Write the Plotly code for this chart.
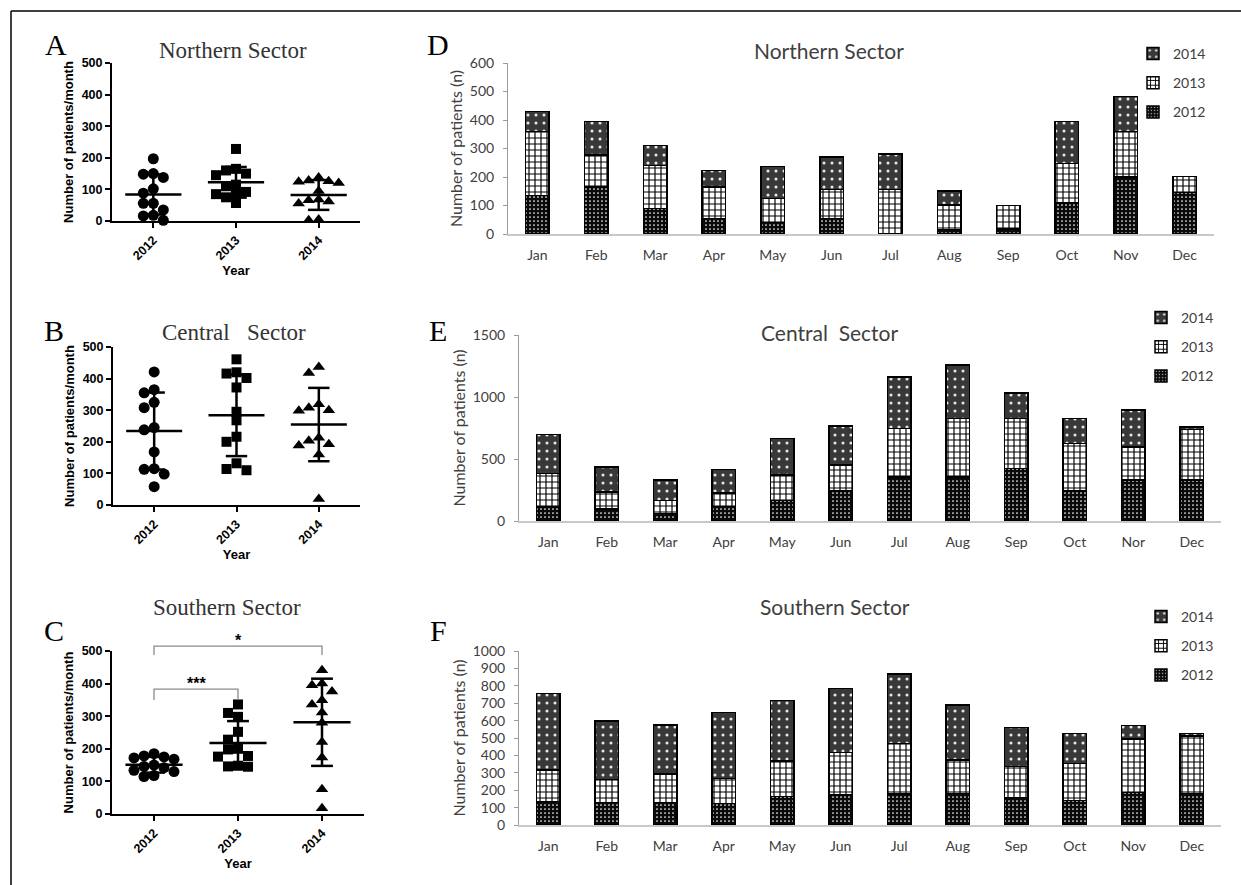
import plotly.graph_objects as go
import numpy as np

# ---------------- data ----------------
years = ["2012", "2013", "2014"]
months_d = ["Jan", "Feb", "Mar", "Apr", "May", "Jun", "Jul", "Aug", "Sep", "Oct", "Nov", "Dec"]
months_e = ["Jan", "Feb", "Mar", "Apr", "May", "Jun", "Jul", "Aug", "Sep", "Oct", "Nor", "Dec"]
months_f = ["Jan", "Feb", "Mar", "Apr", "May", "Jun", "Jul", "Aug", "Sep", "Oct", "Nov", "Dec"]

# Panel A - Northern sector, patients/month
north_2012 = [197, 150, 148, 138, 102, 88, 56, 56, 35, 18, 16, 2]
north_2013 = [228, 165, 160, 150, 145, 115, 110, 92, 88, 85, 75, 57]
north_2014 = [138, 128, 126, 124, 120, 95, 68, 66, 62, 55, 5, 2]
# Panel B - Central sector
central_2012 = [421, 365, 355, 325, 308, 245, 238, 168, 115, 113, 98, 58]
central_2013 = [461, 420, 416, 402, 372, 295, 268, 216, 200, 132, 114, 110]
central_2014 = [437, 418, 319, 308, 300, 298, 213, 203, 192, 188, 160, 19]
# Panel C - Southern sector
south_2012 = [185, 178, 175, 172, 168, 150, 146, 142, 134, 130, 118, 115]
south_2013 = [336, 310, 298, 252, 228, 200, 198, 178, 176, 148, 146, 145]
south_2014 = [441, 400, 395, 376, 349, 336, 311, 280, 221, 173, 76, 18]

# Panel D - Northern sector monthly stacked
d_2012 = [135, 165, 90, 55, 40, 55, 0, 16, 18, 108, 200, 145]
d_2013 = [225, 113, 150, 110, 85, 102, 157, 86, 82, 140, 160, 57]
d_2014 = [70, 117, 70, 57, 112, 113, 124, 49, 0, 147, 123, 0]
# Panel E - Central sector
e_2012 = [113, 95, 60, 118, 167, 242, 355, 355, 423, 242, 329, 329]
e_2013 = [270, 140, 107, 108, 202, 208, 390, 472, 404, 383, 269, 409]
e_2014 = [315, 200, 162, 189, 296, 315, 418, 430, 207, 202, 296, 22]
# Panel F - Southern sector
f_2012 = [134, 128, 128, 125, 163, 172, 178, 182, 159, 140, 188, 182]
f_2013 = [182, 134, 165, 143, 205, 246, 291, 192, 176, 214, 306, 329]
f_2014 = [441, 336, 282, 380, 347, 366, 399, 316, 224, 173, 77, 16]

# ---------------- layout helpers ----------------
W, H = 1241, 885
def fx(px):
    return px / W
def fy(py):
    return 1 - py / H

SERIF = "Liberation Serif"
ARIAL = "Liberation Sans"
SANS = "Lato"
GREY_TXT = "#404040"

fig = go.Figure()

def swarm(values, px_unit, px_cat, diam=10.0):
    n = len(values)
    order = sorted(range(n), key=lambda i: -values[i])
    placed = []
    offs = [0.0] * n
    for i in order:
        y = values[i] * px_unit
        x = 0.0
        for k in [0, -1, 1, -2, 2, -3, 3, -4, 4]:
            cand = k * diam
            if all((cand - px) ** 2 + (y - py) ** 2 >= (diam * 0.85) ** 2 for px, py in placed):
                x = cand
                break
        placed.append((x, y))
        offs[i] = x / px_cat
    return offs

scatter_panels = [
    dict(ax="", dom_x=(112, 360), dom_y=(221, 63), data=[north_2012, north_2013, north_2014],
         title="Northern Sector", tpos=(233, 51), letter="A", lpos=(56, 44)),
    dict(ax="2", dom_x=(113, 360), dom_y=(505, 347), data=[central_2012, central_2013, central_2014],
         title="Central\u00a0\u00a0 Sector", tpos=(234, 332), letter="B", lpos=(54, 331)),
    dict(ax="3", dom_x=(112, 364), dom_y=(814, 651), data=[south_2012, south_2013, south_2014],
         title="Southern Sector", tpos=(227, 607), letter="C", lpos=(54, 630)),
]
symbols = ["circle", "square", "triangle-up"]
sizes = [11, 10, 11]

for p in scatter_panels:
    a = p["ax"]
    px_cat = (p["dom_x"][1] - p["dom_x"][0]) / 3
    px_unit = (p["dom_y"][0] - p["dom_y"][1]) / 500
    for i, vals in enumerate(p["data"]):
        offs = swarm(vals, px_unit, px_cat)
        fig.add_trace(go.Scatter(
            x=[i + o for o in offs], y=vals, mode="markers",
            marker=dict(symbol=symbols[i], size=sizes[i], color="black"),
            xaxis="x" + a, yaxis="y" + a, showlegend=False, cliponaxis=False, hoverinfo="y"))
        m = float(np.mean(vals))
        s = float(np.std(vals, ddof=1))
        lx = [i - 0.34, i + 0.34, None, i - 0.13, i + 0.13, None, i - 0.13, i + 0.13, None, i, i]
        ly = [m, m, None, m + s, m + s, None, m - s, m - s, None, m - s, m + s]
        fig.add_trace(go.Scatter(
            x=lx, y=ly, mode="lines", line=dict(color="black", width=2.5),
            xaxis="x" + a, yaxis="y" + a, showlegend=False, cliponaxis=False, hoverinfo="skip"))
    xa = dict(domain=[fx(p["dom_x"][0]), fx(p["dom_x"][1])], range=[-0.5, 2.5],
              anchor="y" + a, tickmode="array", tickvals=[0, 1, 2], ticktext=years,
              tickangle=-45, showline=True, linecolor="black", linewidth=2,
              ticks="outside", ticklen=5, tickwidth=2, tickcolor="black",
              showgrid=False, zeroline=False, automargin=False,
              tickfont=dict(family=ARIAL, size=12.5, color="black", weight="bold"),
              title=dict(text="<b>Year</b>", font=dict(family=ARIAL, size=13, color="black"), standoff=3))
    ya = dict(domain=[fy(p["dom_y"][0]), fy(p["dom_y"][1])], range=[0, 500],
              anchor="x" + a, tickmode="array", tickvals=[0, 100, 200, 300, 400, 500],
              showline=True, linecolor="black", linewidth=2,
              ticks="outside", ticklen=5, tickwidth=2, tickcolor="black",
              showgrid=False, zeroline=False, automargin=False,
              tickfont=dict(family=ARIAL, size=12.5, color="black", weight="bold"),
              title=dict(text="<b>Number of patients/month</b>", font=dict(family=ARIAL, size=13, color="black"), standoff=5))
    fig.update_layout(**{"xaxis" + a: xa, "yaxis" + a: ya})
    fig.add_annotation(x=fx(p["tpos"][0]), y=fy(p["tpos"][1]), xref="paper", yref="paper",
                       text=p["title"], showarrow=False, font=dict(family=SERIF, size=23, color="#333333"),
                       xanchor="center", yanchor="middle")
    fig.add_annotation(x=fx(p["lpos"][0]), y=fy(p["lpos"][1]), xref="paper", yref="paper",
                       text=p["letter"], showarrow=False, font=dict(family=SERIF, size=30, color="black"),
                       xanchor="center", yanchor="middle")

# significance brackets on panel C
def cx(i):
    return (i + 0.5) / 3
br_col = "#8a8a8a"
fig.add_shape(type="path", xref="x3 domain", yref="y3 domain",
              path=f"M {cx(0)} {488/500} L {cx(0)} {515/500} L {cx(2)} {515/500} L {cx(2)} {488/500}",
              line=dict(color=br_col, width=1.3))
fig.add_shape(type="path", xref="x3 domain", yref="y3 domain",
              path=f"M {cx(0)} {350/500} L {cx(0)} {383/500} L {cx(1)} {383/500} L {cx(1)} {350/500}",
              line=dict(color=br_col, width=1.3))
fig.add_annotation(x=(cx(0) + cx(2)) / 2, y=515 / 500, xref="x3 domain", yref="y3 domain",
                   text="<b>*</b>", showarrow=False, yanchor="bottom",
                   font=dict(family=ARIAL, size=16, color="black"), yshift=-5)
fig.add_annotation(x=(cx(0) + cx(1)) / 2, y=383 / 500, xref="x3 domain", yref="y3 domain",
                   text="<b>***</b>", showarrow=False, yanchor="bottom",
                   font=dict(family=ARIAL, size=16, color="black"), yshift=-5)

# ---------------- stacked bar panels ----------------
pat = {
    "2012": dict(shape=".", bgcolor="#0a0a0a", fgcolor="#ffffff", size=4, solidity=0.15, fillmode="replace"),
    "2013": dict(shape="+", bgcolor="#ffffff", fgcolor="#000000", size=6, solidity=0.35, fillmode="replace"),
    "2014": dict(shape=".", bgcolor="#383838", fgcolor="#e6e6e6", size=8, solidity=0.12, fillmode="replace"),
}

bar_panels = [
    dict(ax="4", legend="legend", months=months_d, data=[d_2012, d_2013, d_2014],
         dom_x=(508, 1214), dom_y=(234, 63), rng=[0, 600], tv=list(range(0, 601, 100)),
         title="Northern Sector", tpos=(829, 50), letter="D", lpos=(438, 45), leg=(1133, 38)),
    dict(ax="5", legend="legend2", months=months_e, data=[e_2012, e_2013, e_2014],
         dom_x=(519, 1221), dom_y=(521, 335), rng=[0, 1500], tv=[0, 500, 1000, 1500],
         title="Central\u00a0\u00a0Sector", tpos=(829, 332), letter="E", lpos=(438, 331), leg=(1141, 302)),
    dict(ax="6", legend="legend3", months=months_f, data=[f_2012, f_2013, f_2014],
         dom_x=(519, 1221), dom_y=(825, 651), rng=[0, 1000], tv=list(range(0, 1001, 100)),
         title="Southern Sector", tpos=(835, 606), letter="F", lpos=(438, 630), leg=(1141, 601)),
]

for p in bar_panels:
    a = p["ax"]
    for k, yr in enumerate(years):
        fig.add_trace(go.Bar(
            x=list(range(12)), y=p["data"][k], name=yr,
            marker=dict(color=pat[yr]["bgcolor"], line=dict(color="black", width=1.5), pattern=pat[yr]),
            xaxis="x" + a, yaxis="y" + a, legend=p["legend"], legendgroup=p["legend"] + yr,
            legendrank=3 - k, showlegend=True))
    xa = dict(domain=[fx(p["dom_x"][0]), fx(p["dom_x"][1])], range=[-0.5, 11.5], anchor="y" + a,
              tickmode="array", tickvals=list(range(12)), ticktext=p["months"],
              showline=True, linecolor="#c8c8c8", linewidth=1.5, ticks="", showgrid=False,
              zeroline=False, automargin=False, ticklabelstandoff=7,
              tickfont=dict(family=SANS, size=14, color=GREY_TXT))
    ya = dict(domain=[fy(p["dom_y"][0]), fy(p["dom_y"][1])], range=p["rng"], anchor="x" + a,
              tickmode="array", tickvals=p["tv"], showline=True, linecolor="#9a9a9a", linewidth=1,
              ticks="outside", ticklen=4, tickcolor="#9a9a9a", showgrid=False, zeroline=False,
              automargin=False, ticklabelstandoff=6,
              tickfont=dict(family=SANS, size=14, color=GREY_TXT),
              title=dict(text="Number of patients (n)", font=dict(family=SANS, size=16, color=GREY_TXT), standoff=3))
    fig.update_layout(**{"xaxis" + a: xa, "yaxis" + a: ya})
    fig.update_layout(**{p["legend"]: dict(
        x=fx(p["leg"][0]), y=fy(p["leg"][1]), xanchor="left", yanchor="top",
        bgcolor="rgba(0,0,0,0)", tracegroupgap=8, itemwidth=30,
        font=dict(family=SANS, size=14, color=GREY_TXT))})
    fig.add_annotation(x=fx(p["tpos"][0]), y=fy(p["tpos"][1]), xref="paper", yref="paper",
                       text=p["title"], showarrow=False, font=dict(family=SANS, size=21, color=GREY_TXT),
                       xanchor="center", yanchor="middle")
    fig.add_annotation(x=fx(p["lpos"][0]), y=fy(p["lpos"][1]), xref="paper", yref="paper",
                       text=p["letter"], showarrow=False, font=dict(family=SERIF, size=30, color="black"),
                       xanchor="center", yanchor="middle")

# outer frame (top and left edges visible)
fig.add_shape(type="line", xref="paper", yref="paper", x0=fx(11), x1=1.0, y0=fy(11), y1=fy(11),
              line=dict(color="black", width=1.5))
fig.add_shape(type="line", xref="paper", yref="paper", x0=fx(11), x1=fx(11), y0=fy(11), y1=0.0,
              line=dict(color="black", width=1.5))

fig.update_layout(
    width=W, height=H, autosize=False,
    margin=dict(l=0, r=0, t=0, b=0),
    paper_bgcolor="white", plot_bgcolor="white",
    barmode="stack", bargap=0.6,
    font=dict(family=ARIAL),
)

fig.write_html("out.html")
